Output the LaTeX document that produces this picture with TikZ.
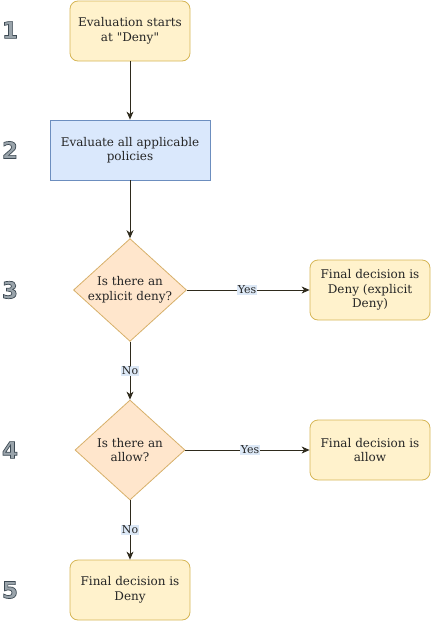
\documentclass[tikz,border=0pt]{standalone}
\usepackage{fontspec}
\setmainfont{DejaVu Serif}[Ligatures=TeXOff]
\newfontfamily\numfont{DejaVu Sans}
\usetikzlibrary{shapes.geometric,arrows.meta}
\definecolor{yelfill}{HTML}{FFF2CC}
\definecolor{yelline}{HTML}{D6B656}
\definecolor{bluefill}{HTML}{DAE8FC}
\definecolor{blueline}{HTML}{6C8EBF}
\definecolor{orfill}{HTML}{FFE6CC}
\definecolor{orline}{HTML}{D7B06A}
\definecolor{arrowcol}{HTML}{2E2A1C}
\definecolor{numfill}{HTML}{9AA4AB}
\definecolor{labbg}{HTML}{DCE8F6}
\newcommand{\outlined}[1]{\special{pdf:code 2 Tr 0.7 w 0.24 0.29 0.33 RG}#1\special{pdf:code 0 Tr}}
\begin{document}
\begin{tikzpicture}[x=1pt,y=-1pt,
  every node/.style={font=\fontsize{12}{14.5}\selectfont, align=center, text=black!85},
  ybox/.style={draw=yelline, fill=yelfill, rounded corners=8pt, minimum width=120pt, minimum height=60pt, inner sep=0pt, line width=0.8pt},
  bbox/.style={draw=blueline, fill=bluefill, minimum width=160pt, minimum height=60pt, inner sep=0pt, line width=0.8pt},
  dbox/.style={draw=orline, fill=orfill, diamond, aspect=1.1, minimum width=110pt, minimum height=100pt, inner sep=0pt, line width=0.8pt},
  conn/.style={draw=arrowcol, line width=0.8pt, -{Stealth[length=8pt,width=7pt,inset=2.5pt]}},
  lab/.style={fill=labbg, inner sep=1pt, font=\fontsize{11}{12}\selectfont},
  num/.style={font=\numfont\bfseries\fontsize{23}{23}\selectfont, text=numfill, inner sep=0pt}
]
\useasboundingbox (0,0) rectangle (431,621);
\node[ybox] (start) at (130,31) {Evaluation starts\\at "Deny"};
\node[bbox] (eval) at (130,150) {Evaluate all applicable\\policies};
\node[dbox] (q1) at (130,290) {Is there an\\explicit deny?};
\node[ybox] (d1) at (370,290) {Final decision is\\Deny (explicit\\Deny)};
\node[dbox] (q2) at (130,450) {Is there an\\allow?};
\node[ybox] (d2) at (370,450) {Final decision is\\allow};
\node[ybox] (d3) at (130,590) {Final decision is\\Deny};

\draw[conn] (start) -- (eval);
\draw[conn] (eval) -- (q1);
\draw[conn] (q1) -- node[lab, pos=0.49] {Yes} (d1);
\draw[conn] (q1) -- node[lab, pos=0.5] {No} (q2);
\draw[conn] (q2) -- node[lab, pos=0.52] {Yes} (d2);
\draw[conn] (q2) -- node[lab, pos=0.5] {No} (d3);

\node[num] (n1) at (10,30) {\outlined{1}};
\node[num] (n2) at (10,150) {\outlined{2}};
\node[num] (n3) at (10,290) {\outlined{3}};
\node[num] (n4) at (10,450) {\outlined{4}};
\node[num] (n5) at (10,590) {\outlined{5}};
\end{tikzpicture}
\end{document}
